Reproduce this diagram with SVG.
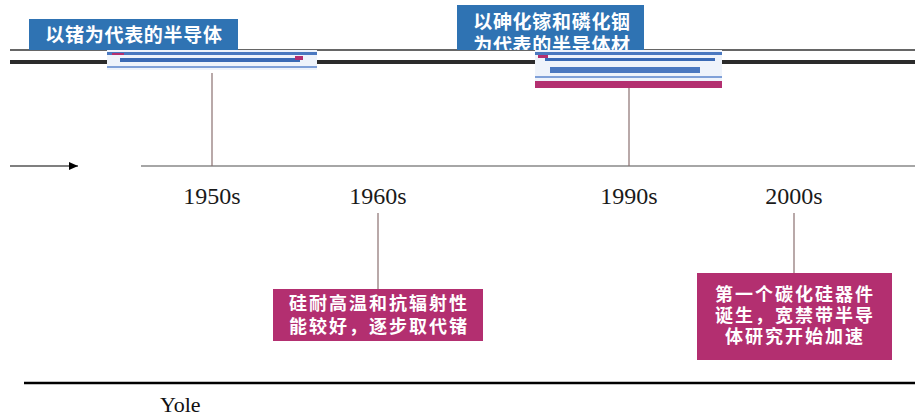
<svg xmlns="http://www.w3.org/2000/svg" width="924" height="419" viewBox="0 0 924 419">
<style>
.blue{fill:#2f73b3}
.mag{fill:#b32f70}
.cjk{font-family:"Liberation Sans","Noto Sans CJK SC",sans-serif;fill:#ffffff;font-size:19px;font-weight:bold;text-anchor:middle;dominant-baseline:central;letter-spacing:0.7px}
.sm{font-size:18px;letter-spacing:2px}
.year{font-family:"Liberation Serif","Times New Roman",serif;font-size:24px;fill:#1a1a1a;text-anchor:middle}
.stem{stroke:#8a7070;stroke-width:1.2}
</style>
<defs>
<marker id="arr" markerWidth="10" markerHeight="8" refX="9" refY="4" orient="auto" markerUnits="userSpaceOnUse">
<path d="M0,0 L9,4 L0,8 Z" fill="#000"/>
</marker>
<clipPath id="clipTop"><rect x="0" y="0" width="924" height="50"/></clipPath>
</defs>
<rect width="924" height="419" fill="#ffffff"/>

<g id="top-rules">
<line x1="10" y1="50" x2="915" y2="50" stroke="#333" stroke-width="1.5"/>
<line x1="10" y1="62" x2="915" y2="62" stroke="#2b2b2b" stroke-width="4"/>
</g>

<g id="node-ge">
<g clip-path="url(#clipTop)">
<rect class="blue" x="29" y="19" width="209" height="40"/>
<text class="cjk" x="134" y="35">以锗为代表的半导体</text>
</g>
<rect x="107" y="50" width="210" height="20" fill="#eef3fb"/>
<rect x="107" y="52" width="210" height="3" fill="#4a78c0"/>
<rect x="120" y="58" width="180" height="4" fill="#3a6ab5"/>
<rect x="107" y="66" width="210" height="2" fill="#7fa0d8"/>
<rect x="112" y="53" width="12" height="2" fill="#b32f70"/>
<rect x="295" y="56" width="8" height="4" fill="#b32f70"/>
</g>

<g id="node-gaas">
<g clip-path="url(#clipTop)">
<rect class="blue" x="457" y="5" width="187" height="54"/>
<text class="cjk" x="552" y="22">以砷化镓和磷化铟</text>
<text class="cjk" x="552" y="45">为代表的半导体材</text>
</g>
<rect x="535" y="50" width="187" height="31" fill="#eef3fb"/>
<rect x="535" y="52" width="187" height="3" fill="#4a78c0"/>
<rect x="545" y="58" width="170" height="3" fill="#3a6ab5"/>
<rect x="550" y="67" width="150" height="6" fill="#4a78c0"/>
<rect x="535" y="76" width="187" height="2" fill="#7fa0d8"/>
<rect x="538" y="55" width="10" height="3" fill="#b32f70"/>
<rect class="mag" x="535" y="81" width="187" height="7"/>
</g>

<g id="connectors">
<line x1="10" y1="166" x2="78" y2="166" stroke="#000" stroke-width="1.2" marker-end="url(#arr)"/>
<line x1="141" y1="166" x2="915" y2="166" stroke="#888" stroke-width="1.5"/>
<line class="stem" x1="212" y1="73" x2="212" y2="166"/>
<line class="stem" x1="629" y1="88" x2="629" y2="166"/>
<line class="stem" x1="378" y1="213" x2="378" y2="289"/>
<line class="stem" x1="794" y1="213" x2="794" y2="273"/>
</g>

<g id="years">
<text class="year" x="212" y="204">1950s</text>
<text class="year" x="378" y="204">1960s</text>
<text class="year" x="629" y="204">1990s</text>
<text class="year" x="794" y="204">2000s</text>
</g>

<g id="node-si">
<rect class="mag" x="273" y="289" width="210" height="52"/>
<text class="cjk sm" x="379" y="304">硅耐高温和抗辐射性</text>
<text class="cjk sm" x="379" y="327">能较好，逐步取代锗</text>
</g>

<g id="node-sic">
<rect class="mag" x="697" y="273" width="195" height="87"/>
<text class="cjk sm" x="795" y="295">第一个碳化硅器件</text>
<text class="cjk sm" x="795" y="316">诞生，宽禁带半导</text>
<text class="cjk sm" x="795" y="337">体研究开始加速</text>
</g>

<g id="footer">
<line x1="24" y1="383" x2="915" y2="383" stroke="#000" stroke-width="2.5"/>
<text x="160" y="412" font-family="'Liberation Serif','Times New Roman',serif" font-size="22" fill="#111">Yole</text>
</g>
</svg>
